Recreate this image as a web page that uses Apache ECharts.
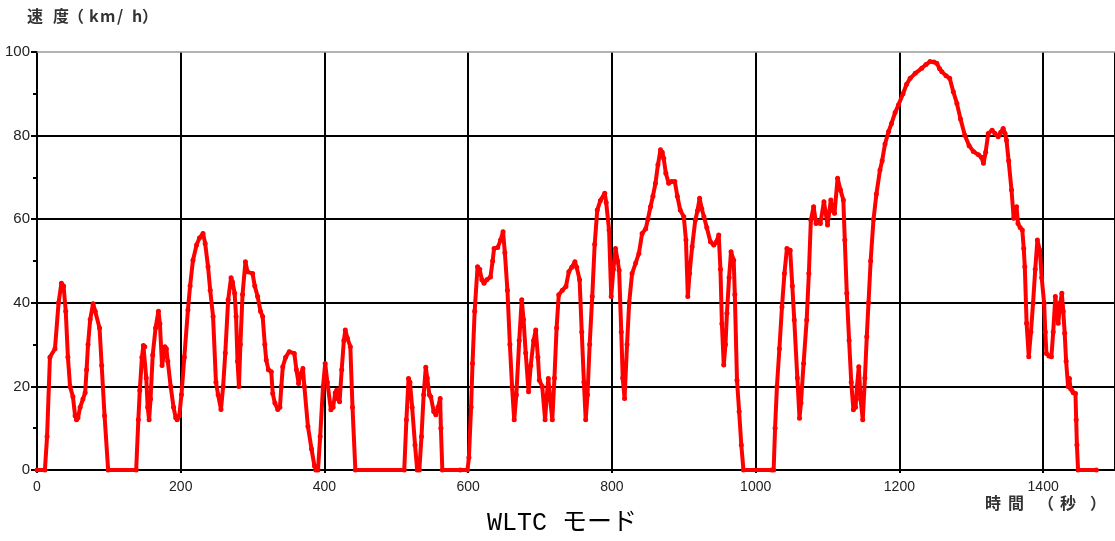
<!DOCTYPE html>
<html>
<head>
<meta charset="utf-8">
<script src="https://cdn.jsdelivr.net/npm/echarts@6/dist/echarts.min.js"></script>
<style>
html,body{margin:0;padding:0;background:#fff;}
#chart{width:1115px;height:541px;}
</style>
</head>
<body>
<div id="chart"></div>
<script>
// WLTC speed trace: [time (s), speed (km/h)]
var lowPhase = [
  [0,0],[11,0],[14,8],[18,27],[25,29],[30,40],[34,44.7],[37,44],[40,38],[43,27],[46,20],[50,17.5],[53,13],[55,12],[57,12.5],
  [60,15],[64,17],[67,18.5],[69,24],[71,30],[74,36],[78,39.8],[81,38],[87,34],[90,25],[94,13],[99,0],[138,0],[141,12],
  [143,19],[146,27],[148,29.8],[150,29.5],[152,22],[154,15],[156,12],[158,17],[161,27.5],[165,34],[169,38],[171,35],
  [174,25],[176,27],[178,29.5],[180,29],[182,26],[186,20],[190,15],[193,12.5],[195,12],[198,13],[201,18],[205,27],
  [210,38.3],[213,44],[217,50.2],[222,53.8],[226,55.5],[231,56.6],[234,54.2],[238,48.6],[241,43],[245,36.7],[249,21],
  [252,18],[256,14.5],[259,20],[262,28],[266,40.7],[270,46],[272,45],[275,42.3],[277,36.7],[279,26],[281,20],[283,30],
  [286,42],[290,49.8],[293,47.4],[300,47],[303,44],[307,41.5],[311,38],[314,36.7],[317,30],[319,26.3],[322,24],[326,23.5],
  [328,18.3],[331,16],[335,14.5],[338,15],[340,20],[342,24.7],[346,27],[351,28.3],[358,27.9],[361,24],[364,20.7],[367,23],
  [370,24.3],[372,20],[377,10.4],[382,5],[386,1],[388,0],[391,0],[394,8],[398,20],[401,25.5],[404,21],[409,14.4],[412,15],
  [415,18.5],[417,19.1],[419,17],[421,16.3],[424,24],[427,31],[429,33.5],[432,31.5],[436,29.5],[439,15],[443,0],[511,0],
  [514,12],[517,21.9],[519,21],[522,15],[526,6],[529,0],[532,0],[535,8],[538,18],[541,24.6],[543,22],[546,18],[548,17.5],
  [552,14],[555,13.2],[558,15],[561,17.1],[562,10],[564,0],[589,0]
];
var mediumPhase = [
  [599,0],[601,3],[604,15],[606,25.5],[609,38],[613,48.6],[616,48],[619,45.5],[622,44.7],[626,45.5],[631,46.2],[634,50],
  [636,53],[641,53.2],[645,55],[648.5,57],[651,52],[654.6,43],[658,30],[661,20],[664,12],[667,18],[671,31],[674.5,40.7],
  [677,36],[680,28],[684,18.7],[687,25],[691,31],[694,33.5],[697,27],[699,21.5],[703,20],[707,12],[709,17],[711.5,21.9],
  [714,17],[717,12],[720,22],[723,34],[726,41.9],[731,43],[736,43.9],[740,47.4],[744,48.5],[748.5,49.8],[751,48.5],
  [755,45.5],[758,33],[761,21],[763.5,12],[766,18],[769,30],[772.6,41.5],[776,54],[779.6,62.2],[784,64.5],[790,66.2],
  [792,64],[796,57.4],[799,41.5],[802,48],[805,53],[808,50],[810,47.8],[813,33],[815,22],[817.6,17.1],[821,30],[824,40],
  [828,47],[833,49.5],[837.5,51.8],[842,56.6],[847,57.7],[850,60],[853.7,63],[857,65.5],[860.6,68.6],[864,73],[867.6,76.6],
  [870,76],[872,74.6],[875,71],[879,68.6],[883,69],[887.5,69],[891,65.5],[895,62.2],[900,60.6],[903,55],[905.6,41.5],
  [908,47],[911.6,53.4],[916,59.8],[919,62],[922,65],[925,62.5],[928,60.6],[932,58],[937,54.6],[941.7,53.8],[945,54.5],
  [948.6,56.2],[951,48],[953,35],[955.6,25.1],[958,30],[960,37.5],[963,46],[965.7,52.2],[969.4,50.2],[971,42],[974,21.5],
  [977,14],[980,6],[983,0],[1022,0]
];
var highPhase = [
  [1025,0],[1027,10],[1029.6,20],[1033,29],[1036.6,39],[1040,47],[1043.5,53],[1048,52.6],[1051,44],[1053.7,35.9],[1058,22],
  [1061,12.4],[1063,16],[1066.7,25.5],[1071,35.9],[1074,47],[1076.8,59.8],[1080.6,63],[1084,59],[1087,59.5],[1090,59],
  [1095,64.2],[1100,58.6],[1104.6,64.6],[1107,62],[1109.7,61.4],[1114,69.8],[1118,67],[1122,64.6],[1124,55],[1126.8,42.3],
  [1130,31],[1133,21],[1136,14.4],[1139,15],[1141,20],[1143.5,24.7],[1146,17],[1149,12],[1152,22],[1154.6,31.9],[1157,40],
  [1160,50],[1164,60],[1168,66],[1173,71.8],[1176,74],[1180,78],[1185,81],[1189,82.9],[1194,85.5],[1198.6,87.3],[1205,90],
  [1210,92.3],[1215,93.7],[1222,94.9],[1231,96.1],[1237,97],[1242.6,97.7],[1248,97.6],[1252,97.3],[1256,96],[1259,95.3],
  [1265,94.3],[1270,93.7],[1275,90.5],[1280,87.7],[1285,84],[1291,80.1],[1297,77.6],[1303,76.2],[1310,75.4],[1314,74.8],
  [1317,73.4],[1320,76],[1323.6,80.5],[1329,81.3],[1333,80.5],[1337.5,79.7],[1341,80.8],[1344.4,81.7],[1347,80.5],
  [1349,78.9],[1352,74],[1356,67],[1359,60.2],[1361,61],[1363,63],[1365,59],[1368,58],[1371,57.4],[1373,53],[1374.5,48.6],
  [1377,35.1],[1380,27.1],[1383,33],[1386,39.9],[1389,48],[1392,55],[1395.4,52.6],[1398,46],[1401.4,39.9],[1403,33],
  [1404.6,27.9],[1408,27.3],[1411.5,27.1],[1414,33],[1417,41.5],[1419,38],[1421,35.1],[1424,40],[1426,42.3],[1428,38],
  [1430,32.7],[1432,26],[1434.7,20],[1436.6,21.9],[1438,19.5],[1440,19.1],[1442,18.5],[1445,18.3],[1446,12],[1447,6],
  [1448.6,0],[1474,0]
];

var xTickStep = 200;   // time axis labels 0 ... 1400
var yTickStep = 20;    // speed axis labels 0 ... 100
var chartTitle = 'WLTC モード';
// axis titles, drawn glyph by glyph with the wide letter spacing of the original
var yAxisTitleChars = ['速', '度', '（', 'k', 'm', '/', 'h', '）'];
var xAxisTitleChars = ['時', '間', '（', '秒', '）'];
var yTitleOffsets = [27, 53, 68, 89, 100, 117, 132, 142];
var xTitleOffsets = [985, 1008, 1038, 1060, 1090];

var speedTrace = lowPhase.concat(mediumPhase, highPhase);

function glyphs(chars, offsets, y, size) {
  return chars.map(function (c, i) {
    return {
      type: 'text', x: offsets[i], y: y,
      style: {text: c, font: '600 ' + size + 'px "Noto Sans CJK JP", sans-serif', fill: '#333',
              textAlign: 'left', textVerticalAlign: 'middle'}
    };
  });
}

var chart = echarts.init(document.getElementById('chart'), null, {renderer: 'canvas'});
chart.setOption({
  animation: false,
  backgroundColor: '#ffffff',
  grid: {left: 37, top: 52, width: 1080, height: 418, containLabel: false},
  xAxis: {
    type: 'value', min: 0, max: 1500, interval: xTickStep,
    axisLine: {show: true, lineStyle: {color: '#000', width: 2}},
    axisTick: {show: true, length: 3, lineStyle: {color: '#000', width: 2}},
    axisLabel: {show: true, margin: 10, color: '#222', fontSize: 14, fontFamily: 'Liberation Sans, Arial, sans-serif',
                showMaxLabel: false, formatter: function (v) { return String(v); }},
    splitLine: {show: true, showMinLine: false, lineStyle: {color: '#000', width: 2}}
  },
  yAxis: {
    type: 'value', min: 0, max: 100, interval: yTickStep,
    axisLine: {show: true, lineStyle: {color: '#000', width: 2}},
    axisTick: {show: true, length: 6, lineStyle: {color: '#000', width: 2}},
    minorTick: {show: true, splitNumber: 2, length: 4, lineStyle: {color: '#000', width: 2}},
    axisLabel: {show: true, margin: 7, color: '#222', fontSize: 15, fontFamily: 'Liberation Sans, Arial, sans-serif'},
    splitLine: {show: true, showMinLine: false, showMaxLine: false, lineStyle: {color: '#000', width: 2}}
  },
  series: [{
    type: 'line',
    data: speedTrace,
    showSymbol: true,
    showAllSymbol: true,
    symbol: 'circle',
    symbolSize: 5,
    itemStyle: {color: '#ff0000'},
    lineStyle: {color: '#ff0000', width: 4, join: 'round', cap: 'round'},
    markLine: {
      silent: true, symbol: 'none', label: {show: false},
      lineStyle: {color: '#9a9a9a', width: 1.5, type: 'solid'},
      data: [{yAxis: 100}]
    },
    z: 5
  }],
  graphic: glyphs(yAxisTitleChars, yTitleOffsets, 16, 16)
    .concat(glyphs(xAxisTitleChars, xTitleOffsets, 503, 16))
    .concat([{type: 'text', left: 487, top: 511,
              style: {text: chartTitle, font: '25px "Liberation Mono", "Noto Sans CJK JP", monospace', fill: '#000'}}])
});
</script>
</body>
</html>
